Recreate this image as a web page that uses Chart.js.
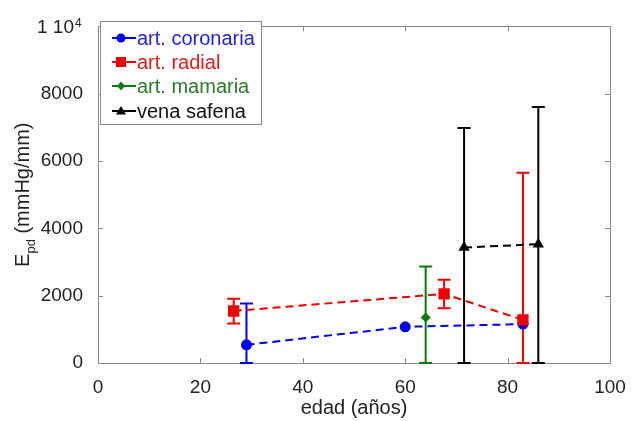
<!DOCTYPE html>
<html>
<head>
<meta charset="utf-8">
<script src="https://cdn.jsdelivr.net/npm/chart.js@4/dist/chart.umd.min.js"></script>
<style>
html,body{margin:0;padding:0;background:#fff;overflow:hidden;}
#wrap{width:640px;height:421px;}
</style>
</head>
<body>
<div id="wrap"><canvas id="c" width="640" height="421"></canvas></div>
<script>
// ---- data ----
const coronariaX = [29, 60, 83];
const coronariaY = [540, 1075, 1155];
const coronariaLo = [0, null, null];
const coronariaHi = [1770, null, null];

const radialX = [26.5, 67.6, 83];
const radialY = [1545, 2053, 1280];
const radialLo = [1173, 1625, 0];
const radialHi = [1906, 2475, 5650];

const mamariaX = [64];
const mamariaY = [1350];
const mamariaLo = [0];
const mamariaHi = [2865];

const safenaX = [71.5, 86];
const safenaY = [3430, 3530];
const safenaLo = [0, 0];
const safenaHi = [6980, 7605];

const seriesNames = ['art. coronaria', 'art. radial', 'art. mamaria', 'vena safena'];
const xTicks = [0, 20, 40, 60, 80, 100];
const yTicks = [0, 2000, 4000, 6000, 8000, 10000];

const colors = ['#0000ee', '#ee0000', '#0b7a0b', '#000000'];
const textColors = ['#2323d8', '#e01b1b', '#2a7a2a', '#111111'];
const FONT = '"Liberation Sans", Arial, sans-serif';

function pts(xs, ys, lo, hi) {
  return xs.map((x, i) => ({x: x, y: ys[i], lo: lo[i], hi: hi[i]}));
}

const styles = [
  {pointStyle: 'circle', radius: 5.5},
  {pointStyle: 'rect', radius: 8},
  {pointStyle: 'rectRot', radius: 5},
  {pointStyle: 'triangle', radius: 6.5}
];

const rawData = [
  pts(coronariaX, coronariaY, coronariaLo, coronariaHi),
  pts(radialX, radialY, radialLo, radialHi),
  pts(mamariaX, mamariaY, mamariaLo, mamariaHi),
  pts(safenaX, safenaY, safenaLo, safenaHi)
];

const datasets = rawData.map((d, i) => ({
  label: seriesNames[i],
  data: d,
  order: i === 0 ? 1 : 0,
  showLine: true,
  borderColor: colors[i],
  backgroundColor: colors[i],
  borderWidth: 2,
  borderDash: [8, 5],
  pointStyle: styles[i].pointStyle,
  pointRadius: styles[i].radius,
  pointHoverRadius: styles[i].radius,
  pointBorderWidth: 0,
  pointBackgroundColor: colors[i],
  pointBorderColor: colors[i]
}));

function legendMarker(ctx, i, x, y) {
  ctx.beginPath();
  if (i === 0) {
    ctx.arc(x, y, 4.5, 0, Math.PI * 2);
  } else if (i === 1) {
    ctx.rect(x - 5, y - 5, 10, 10);
  } else if (i === 2) {
    ctx.moveTo(x, y - 4.5); ctx.lineTo(x + 4, y); ctx.lineTo(x, y + 4.5); ctx.lineTo(x - 4, y); ctx.closePath();
  } else {
    ctx.moveTo(x, y - 5); ctx.lineTo(x + 5, y + 3.5); ctx.lineTo(x - 5, y + 3.5); ctx.closePath();
  }
  ctx.fill();
}

const decorPlugin = {
  id: 'decor',
  beforeDatasetsDraw(chart) {
    const ctx = chart.ctx;
    const xs = chart.scales.x, ys = chart.scales.y;
    const a = chart.chartArea;
    ctx.save();
    ctx.strokeStyle = '#8a8a8a';
    ctx.lineWidth = 1;
    ctx.strokeRect(Math.round(a.left) + 0.5, Math.round(a.top) + 0.5, Math.round(a.right - a.left), Math.round(a.bottom - a.top));
    ctx.beginPath();
    xTicks.forEach(t => {
      const px = Math.round(xs.getPixelForValue(t)) + 0.5;
      ctx.moveTo(px, a.bottom); ctx.lineTo(px, a.bottom - 5);
      ctx.moveTo(px, a.top); ctx.lineTo(px, a.top + 5);
    });
    yTicks.forEach(t => {
      const py = Math.round(ys.getPixelForValue(t)) + 0.5;
      ctx.moveTo(a.left, py); ctx.lineTo(a.left + 5, py);
      ctx.moveTo(a.right, py); ctx.lineTo(a.right - 5, py);
    });
    ctx.stroke();
    chart.data.datasets.forEach((ds, i) => {
      ctx.strokeStyle = colors[i];
      ctx.lineWidth = 2;
      ds.data.forEach(p => {
        if (p.lo === null || p.hi === null) return;
        const px = xs.getPixelForValue(p.x);
        const pl = ys.getPixelForValue(p.lo);
        const ph = ys.getPixelForValue(p.hi);
        ctx.beginPath();
        ctx.moveTo(px, pl); ctx.lineTo(px, ph);
        ctx.moveTo(px - 6.5, pl); ctx.lineTo(px + 6.5, pl);
        ctx.moveTo(px - 6.5, ph); ctx.lineTo(px + 6.5, ph);
        ctx.stroke();
      });
    });
    ctx.restore();
  },
  afterDraw(chart) {
    const ctx = chart.ctx;
    const ys = chart.scales.y;
    const a = chart.chartArea;
    ctx.save();
    const yTop = ys.getPixelForValue(yTicks[yTicks.length - 1]);
    ctx.fillStyle = '#222';
    ctx.textBaseline = 'middle';
    ctx.textAlign = 'right';
    ctx.font = '19px ' + FONT;
    ctx.fillText('1 10', 74, yTop + 1.5);
    ctx.textAlign = 'left';
    ctx.font = '12px ' + FONT;
    ctx.fillText('4', 75, yTop - 3);
    ctx.translate(29, (a.top + a.bottom) / 2);
    ctx.rotate(-Math.PI / 2);
    ctx.textBaseline = 'alphabetic';
    const part1 = 'E', part3 = ' (mmHg/mm)';
    ctx.font = '13px ' + FONT;
    const wsub = ctx.measureText('pd').width;
    ctx.font = '20px ' + FONT;
    const w1 = ctx.measureText(part1).width, w3 = ctx.measureText(part3).width;
    const total = w1 + wsub + w3;
    const x0 = -total / 2;
    ctx.fillText(part1, x0, 0);
    ctx.font = '13px ' + FONT;
    ctx.fillText('pd', x0 + w1, 6);
    ctx.font = '20px ' + FONT;
    ctx.fillText(part3, x0 + w1 + wsub, 0);
    ctx.restore();

    ctx.save();
    const lx = 100, ly = 21, lw = 161, lh = 103;
    ctx.fillStyle = '#fff';
    ctx.fillRect(lx, ly, lw, lh);
    ctx.strokeStyle = '#8a8a8a';
    ctx.lineWidth = 1;
    ctx.strokeRect(lx + 0.5, ly + 0.5, lw, lh);
    const rowY = [38, 62, 86, 111];
    ctx.font = '20px ' + FONT;
    ctx.textBaseline = 'middle';
    ctx.textAlign = 'left';
    seriesNames.forEach((n, i) => {
      const yy = rowY[i];
      ctx.strokeStyle = colors[i];
      ctx.lineWidth = 2;
      ctx.beginPath(); ctx.moveTo(112, yy); ctx.lineTo(136, yy); ctx.stroke();
      ctx.fillStyle = colors[i];
      legendMarker(ctx, i, 121, yy);
      ctx.fillStyle = textColors[i];
      ctx.fillText(n, 137, yy + 1);
    });
    ctx.restore();
  }
};

new Chart(document.getElementById('c'), {
  type: 'scatter',
  data: {datasets: datasets},
  plugins: [decorPlugin],
  options: {
    responsive: false,
    animation: false,
    layout: {padding: {top: 22, right: 30, left: 0, bottom: 0}},
    plugins: {legend: {display: false}, tooltip: {enabled: false}},
    scales: {
      x: {
        type: 'linear', min: 0, max: 100,
        afterBuildTicks: s => { s.ticks = xTicks.map(v => ({value: v})); },
        afterFit: s => { s.height = 58; },
        grid: {display: false, drawTicks: false},
        border: {display: false},
        ticks: {color: '#222', font: {family: FONT, size: 19}, padding: 13, maxRotation: 0},
        title: {display: true, text: 'edad (años)', color: '#222', font: {family: FONT, size: 20}, padding: {top: 0, bottom: 1}}
      },
      y: {
        type: 'linear', min: 0, max: 10000,
        afterBuildTicks: s => { s.ticks = yTicks.map(v => ({value: v})); },
        afterFit: s => { s.width = 98; },
        grid: {display: false, drawTicks: false},
        border: {display: false},
        ticks: {color: '#222', font: {family: FONT, size: 19}, padding: 15,
          callback: v => (v === 10000 ? '' : String(v))}
      }
    }
  }
});
</script>
</body>
</html>
